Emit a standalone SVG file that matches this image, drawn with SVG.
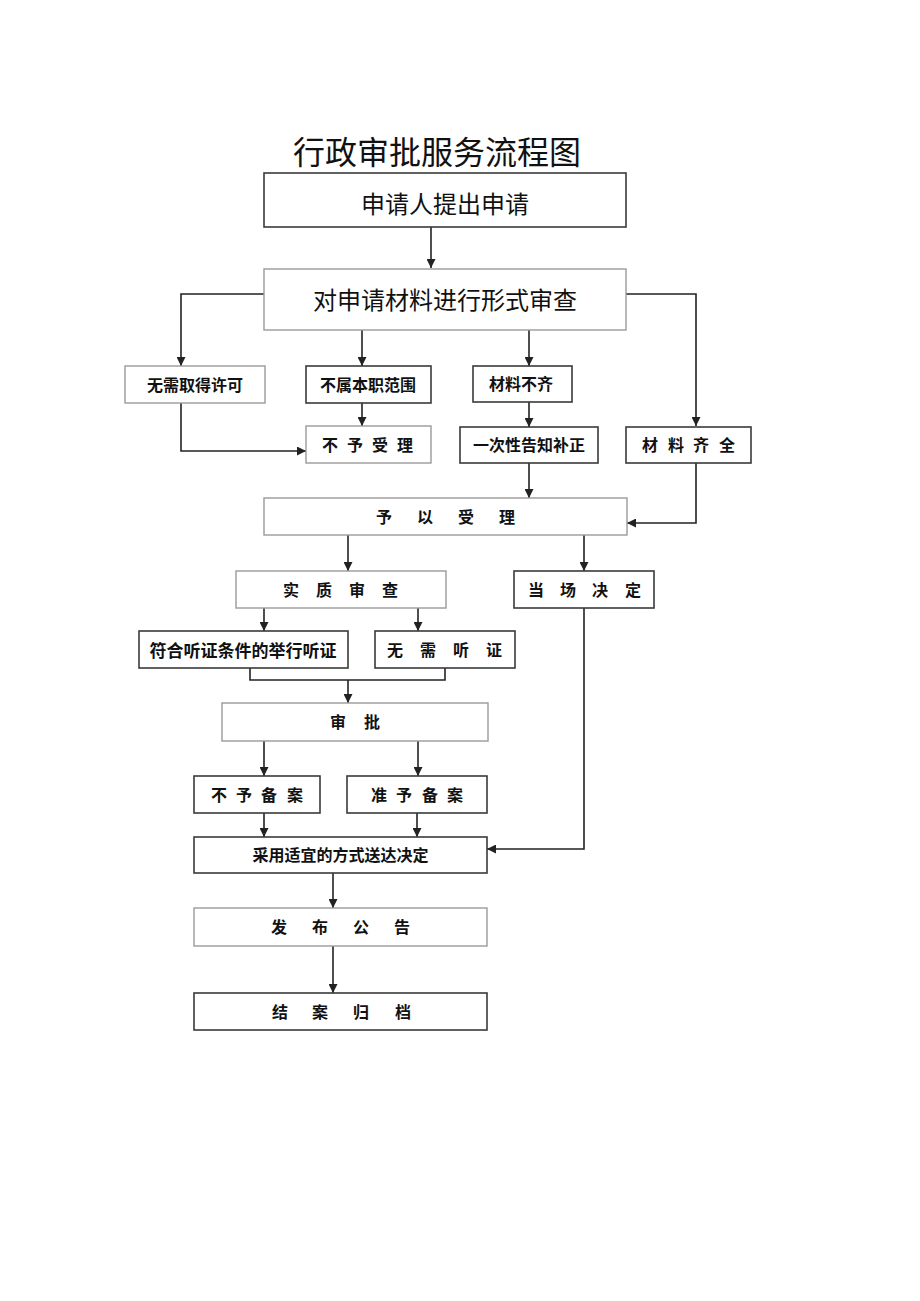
<svg xmlns="http://www.w3.org/2000/svg" width="920" height="1301" viewBox="0 0 920 1301">
<style>
  .bg { fill: #ffffff; }
  .box { fill: #ffffff; stroke: #3a3a3a; stroke-width: 1.6; }
  .lbox { fill: #ffffff; stroke: #9a9a9a; stroke-width: 1.4; }
  .t { font-family: "Noto Sans CJK SC", "Noto Sans", sans-serif; fill: #111; text-anchor: middle; dominant-baseline: central; }
  .big { font-size: 24px; font-weight: 400; }
  .sm { font-size: 16px; font-weight: 700; }
  .title { font-family: "Noto Sans CJK SC", "Noto Sans", sans-serif; font-size: 32px; fill: #111; text-anchor: middle; }
  .c { fill: none; stroke: #222; stroke-width: 1.6; }
</style>
<defs>
  <marker id="ah" viewBox="0 0 10 10" refX="10" refY="5" markerWidth="10" markerHeight="9" markerUnits="userSpaceOnUse" orient="auto">
    <path d="M0,0 L10,5 L0,10 Z" fill="#222"/>
  </marker>
</defs>
<rect class="bg" x="0" y="0" width="920" height="1301"/>
<text class="title" x="437" y="164">行政审批服务流程图</text>

<g id="connectors">
  <path class="c" d="M431,227 V268" marker-end="url(#ah)"/>
  <path class="c" d="M264,294 H181 V366" marker-end="url(#ah)"/>
  <path class="c" d="M362,330 V366" marker-end="url(#ah)"/>
  <path class="c" d="M529,330 V366" marker-end="url(#ah)"/>
  <path class="c" d="M626,294 H696 V426" marker-end="url(#ah)"/>
  <path class="c" d="M181,403 V451 H306" marker-end="url(#ah)"/>
  <path class="c" d="M362,403 V426" marker-end="url(#ah)"/>
  <path class="c" d="M529,402 V427" marker-end="url(#ah)"/>
  <path class="c" d="M529,463 V498" marker-end="url(#ah)"/>
  <path class="c" d="M696,463 V523 H627" marker-end="url(#ah)"/>
  <path class="c" d="M348,535 V571" marker-end="url(#ah)"/>
  <path class="c" d="M584,535 V571" marker-end="url(#ah)"/>
  <path class="c" d="M264,608 V631" marker-end="url(#ah)"/>
  <path class="c" d="M418,608 V631" marker-end="url(#ah)"/>
  <path class="c" d="M250,668 V680 H445 V668"/>
  <path class="c" d="M348,680 V703" marker-end="url(#ah)"/>
  <path class="c" d="M264,741 V776" marker-end="url(#ah)"/>
  <path class="c" d="M418,741 V776" marker-end="url(#ah)"/>
  <path class="c" d="M264,813 V837" marker-end="url(#ah)"/>
  <path class="c" d="M417,813 V837" marker-end="url(#ah)"/>
  <path class="c" d="M584,608 V849 H487" marker-end="url(#ah)"/>
  <path class="c" d="M333,873 V908" marker-end="url(#ah)"/>
  <path class="c" d="M333,946 V993" marker-end="url(#ah)"/>
</g>

<g id="n-apply">
  <rect class="box" x="264" y="173" width="362" height="54"/>
  <text class="t big" x="445" y="202">申请人提出申请</text>
</g>
<g id="n-formal">
  <rect class="lbox" x="264" y="269" width="362" height="61"/>
  <text class="t big" x="445" y="298">对申请材料进行形式审查</text>
</g>
<g id="n-nopermit">
  <rect class="lbox" x="125" y="366" width="140" height="37"/>
  <text class="t sm" x="195" y="384">无需取得许可</text>
</g>
<g id="n-outscope">
  <rect class="box" x="306" y="366" width="125" height="37"/>
  <text class="t sm" x="368" y="384">不属本职范围</text>
</g>
<g id="n-incomplete">
  <rect class="box" x="473" y="366" width="99" height="36"/>
  <text class="t sm" x="521" y="383">材料不齐</text>
</g>
<g id="n-reject">
  <rect class="lbox" x="306" y="426" width="125" height="37"/>
  <text class="t sm" x="330 342 355 367 380 392 405" y="444">不 予 受 理</text>
</g>
<g id="n-notify">
  <rect class="box" x="460" y="427" width="138" height="36"/>
  <text class="t sm" x="529" y="444">一次性告知补正</text>
</g>
<g id="n-complete">
  <rect class="box" x="626" y="427" width="125" height="36"/>
  <text class="t sm" x="650 663 676 688 701 714 727" y="444">材 料 齐 全</text>
</g>
<g id="n-accept">
  <rect class="lbox" x="264" y="498" width="363" height="37"/>
  <text class="t sm" x="384 404 425 445 466 486 507" y="516">予 以 受 理</text>
</g>
<g id="n-substantive">
  <rect class="lbox" x="236" y="571" width="210" height="37"/>
  <text class="t sm" x="291 307 324 340 357 373 390" y="589">实 质 审 查</text>
</g>
<g id="n-onsite">
  <rect class="box" x="514" y="571" width="140" height="37"/>
  <text class="t sm" x="536 552 568 584 600 616 633" y="589">当 场 决 定</text>
</g>
<g id="n-hearing">
  <rect class="box" x="139" y="631" width="209" height="37"/>
  <text class="t sm" x="243" y="649" style="font-size:17px">符合听证条件的举行听证</text>
</g>
<g id="n-nohearing">
  <rect class="box" x="375" y="631" width="140" height="37"/>
  <text class="t sm" x="395 411 428 444 461 477 494" y="649">无 需 听 证</text>
</g>
<g id="n-approve">
  <rect class="lbox" x="222" y="703" width="266" height="38"/>
  <text class="t sm" x="338 355 372" y="721">审 批</text>
</g>
<g id="n-nofile">
  <rect class="box" x="194" y="776" width="126" height="37"/>
  <text class="t sm" x="219 232 244 257 269 282 295" y="794">不 予 备 案</text>
</g>
<g id="n-file">
  <rect class="box" x="347" y="776" width="140" height="37"/>
  <text class="t sm" x="379 392 404 417 430 442 455" y="794">准 予 备 案</text>
</g>
<g id="n-deliver">
  <rect class="box" x="194" y="837" width="293" height="36"/>
  <text class="t sm" x="340.5" y="854">采用适宜的方式送达决定</text>
</g>
<g id="n-publish">
  <rect class="lbox" x="194" y="908" width="293" height="38"/>
  <text class="t sm" x="279 299 320 340 361 381 402" y="926">发 布 公 告</text>
</g>
<g id="n-archive">
  <rect class="box" x="194" y="993" width="293" height="37"/>
  <text class="t sm" x="280 300 320 340 361 381 403" y="1011">结 案 归 档</text>
</g>
</svg>
